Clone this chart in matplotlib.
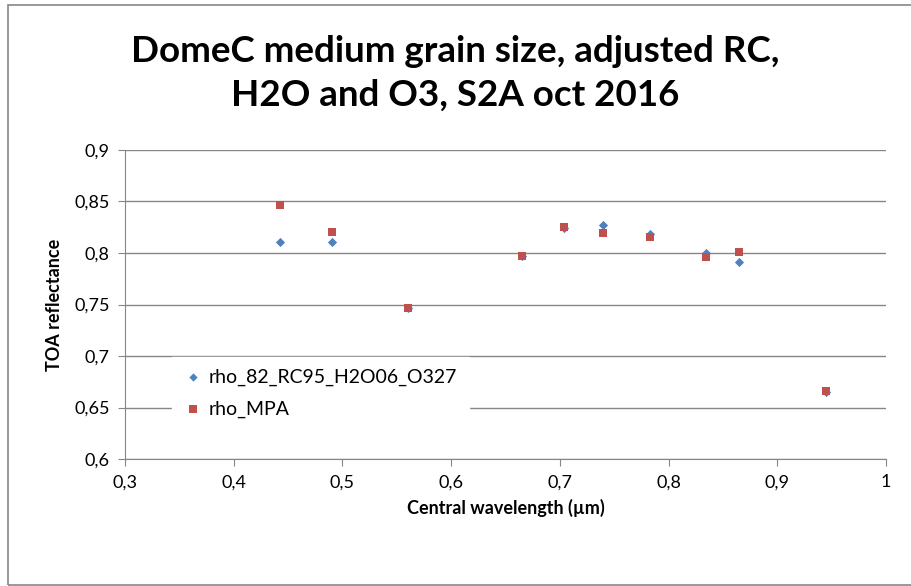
import matplotlib
matplotlib.use("Agg")
import matplotlib.pyplot as plt
from matplotlib.ticker import FuncFormatter, MultipleLocator
from matplotlib.patches import Rectangle

wavelength = [0.443, 0.490, 0.560, 0.665, 0.704, 0.740, 0.783, 0.834, 0.865, 0.945]
rho_82 = [0.811, 0.811, 0.747, 0.797, 0.824, 0.827, 0.818, 0.800, 0.791, 0.665]
rho_mpa = [0.847, 0.820, 0.747, 0.797, 0.825, 0.819, 0.816, 0.796, 0.801, 0.666]
series_names = ["rho_82_RC95_H2O06_O327", "rho_MPA"]
title_text = "DomeC medium grain size, adjusted RC,\nH2O and O3, S2A oct 2016"

plt.rcParams['font.family'] = ['Lato', 'DejaVu Sans']

fig = plt.figure(figsize=(9.11, 5.86), dpi=100)
W, H = 911, 586
ax = fig.add_axes([125 / W, 1 - 459 / H, (886 - 125) / W, (459 - 150) / H])

# outer chart frame (right edge lies outside the picture)
fig.patches.append(Rectangle((7.5 / W, 1.5 / H), 1.2, (584 - 4) / H, transform=fig.transFigure,
                             fill=False, edgecolor='#868686', linewidth=1.2))

ax.scatter(wavelength, rho_82, marker='D', s=22, color='#4F81BD', label=series_names[0], zorder=3, linewidths=0)
ax.scatter(wavelength, rho_mpa, marker='s', s=40, color='#C0504D', label=series_names[1], zorder=4, linewidths=0)

ax.set_xlim(0.3, 1.0)
ax.set_ylim(0.6, 0.9)
ax.xaxis.set_major_locator(MultipleLocator(0.1))
ax.yaxis.set_major_locator(MultipleLocator(0.05))
fmt = FuncFormatter(lambda v, p: ('%g' % round(v, 3)).replace('.', ','))
ax.xaxis.set_major_formatter(fmt)
ax.yaxis.set_major_formatter(fmt)
ax.grid(axis='y', color='#868686', linewidth=1.0)
ax.set_axisbelow(True)
for s in ['top', 'right']:
    ax.spines[s].set_visible(False)
for s in ['left', 'bottom']:
    ax.spines[s].set_color('#868686')
ax.tick_params(axis='both', direction='out', length=5, color='#868686', labelsize=13, pad=6)

ax.set_xlabel("Central wavelength (µm)", fontsize=13, fontweight='bold', labelpad=6)
ax.set_ylabel("TOA reflectance", fontsize=13, fontweight='bold', labelpad=8)

fig.text(0.5, 1 - 73 / H, title_text, ha='center', va='center', fontsize=26.5, fontweight='bold',
         linespacing=1.4)

leg = ax.legend(loc='upper left', bbox_to_anchor=((162 - 125) / (886 - 125), (459 - 347) / (459 - 150)),
                frameon=True, fontsize=14, handletextpad=0.3, handlelength=1.0, borderpad=0.6,
                labelspacing=0.75, markerscale=0.9)
leg.get_frame().set_edgecolor('white')
leg.get_frame().set_facecolor('white')
leg.get_frame().set_alpha(1)
leg.get_frame().set_boxstyle('square', pad=0)

fig.savefig("out.png", dpi=100)
